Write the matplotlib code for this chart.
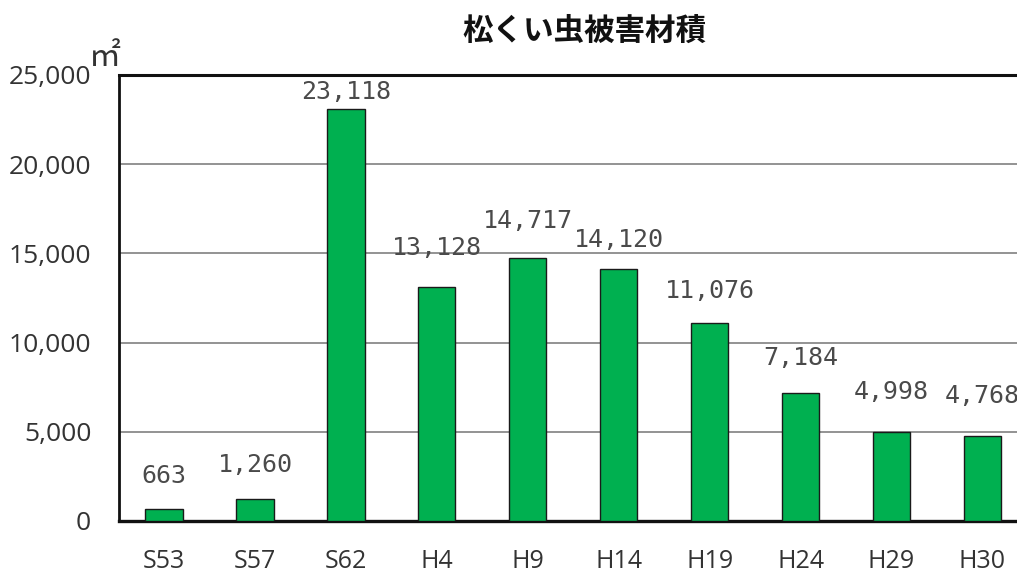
import matplotlib
matplotlib.use("Agg")
import matplotlib.pyplot as plt

categories = ["S53", "S57", "S62", "H4", "H9", "H14", "H19", "H24", "H29", "H30"]
values = [663, 1260, 23118, 13128, 14717, 14120, 11076, 7184, 4998, 4768]
label_texts = ["663", "1,260", "23,118", "13,128", "14,717", "14,120", "11,076", "7,184", "4,998", "4,768"]
yticks = [0, 5000, 10000, 15000, 20000, 25000]
ytick_labels = ["0", "5,000", "10,000", "15,000", "20,000", "25,000"]
title = "松くい虫被害材積"
unit = "㎡"

# label offsets above bar tops (points), styling only
label_offsets = [24, 24, 12, 28, 27, 21, 23, 25, 29, 29]

fig = plt.figure(figsize=(10.17, 5.72), dpi=100)
ax = fig.add_axes([119/1017, 51/572, (1017-119)/1017, 446/572])

x = list(range(len(categories)))
ax.bar(x, values, width=0.41, color="#00B050", edgecolor="#1a1a1a", linewidth=1.0, zorder=3)

ax.set_xlim(-0.495, 9.38)
ax.set_ylim(0, 25000)
ax.yaxis.grid(True, color="#8a8a8a", linewidth=1.3, zorder=0)
ax.set_yticks(yticks)
ax.set_yticklabels(ytick_labels, fontsize=19, color="#333333", family="Open Sans")
ax.set_xticks(x)
ax.set_xticklabels(categories, fontsize=18, color="#333333", family="Open Sans")
ax.tick_params(axis="both", length=0)
ax.tick_params(axis="y", pad=20)
ax.tick_params(axis="x", pad=20)

for s in ["left", "top", "bottom"]:
    ax.spines[s].set_color("#111111")
ax.spines["left"].set_linewidth(2.0)
ax.spines["top"].set_linewidth(2.2)
ax.spines["bottom"].set_linewidth(2.4)
ax.spines["right"].set_visible(False)

for xi, v, t, off in zip(x, values, label_texts, label_offsets):
    ax.annotate(t, (xi, v), xytext=(0, off), textcoords="offset points",
                ha="center", va="center", fontsize=18, color="#4a4a4a",
                family="DejaVu Sans Mono")

fig.text(584/1017, 1 - 31/572, title, ha="center", va="center", fontsize=22,
         fontweight="bold", family=["Noto Sans CJK JP", "DejaVu Sans"], color="#111111")
fig.text(105/1017, 1 - 57/572, unit, ha="center", va="center", fontsize=23,
         family=["Noto Sans CJK JP", "DejaVu Sans"], color="#333333")

fig.savefig("out.png", dpi=100)
